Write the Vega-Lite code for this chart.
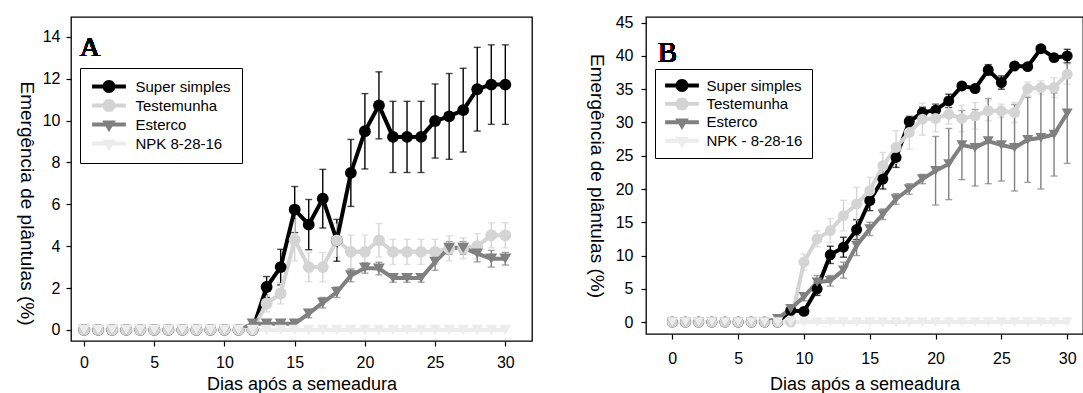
{
  "$schema": "https://vega.github.io/schema/vega-lite/v6.json",
  "padding": {"left": 15, "top": 14, "right": 0, "bottom": 0},
  "background": "white",
  "config": {
    "font": "Liberation Sans",
    "view": {"stroke": "black", "strokeWidth": 1.3},
    "axis": {"domain": false, "grid": false, "tickColor": "black", "tickSize": 5, "tickWidth": 1.2, "labelColor": "black", "labelFontSize": 16, "titleFontSize": 18, "titleFontWeight": "normal", "titleColor": "black", "labelFont": "Liberation Sans", "titleFont": "Liberation Sans"},
    "axisY": {"titleAngle": 90, "titleBaseline": "top", "titleFontSize": 19},
    "legend": {"title": null, "orient": "none", "labelFontSize": 15, "labelColor": "black", "labelFont": "Liberation Sans", "padding": 11, "rowPadding": 3, "symbolSize": 169, "symbolOffset": 10.5, "labelOffset": 19, "strokeColor": "black", "symbolStrokeWidth": 0, "symbolOpacity": 1}
  },
  "spacing": 52,
  "resolve": {"scale": {"color": "independent", "shape": "independent", "x": "independent", "y": "independent"}},
  "datasets": {
    "A": [
      {"d":0,"s":"Super simples","m":0,"e":0},{"d":1,"s":"Super simples","m":0,"e":0},{"d":2,"s":"Super simples","m":0,"e":0},{"d":3,"s":"Super simples","m":0,"e":0},{"d":4,"s":"Super simples","m":0,"e":0},{"d":5,"s":"Super simples","m":0,"e":0},{"d":6,"s":"Super simples","m":0,"e":0},{"d":7,"s":"Super simples","m":0,"e":0},{"d":8,"s":"Super simples","m":0,"e":0},{"d":9,"s":"Super simples","m":0,"e":0},{"d":10,"s":"Super simples","m":0,"e":0},{"d":11,"s":"Super simples","m":0,"e":0},{"d":12,"s":"Super simples","m":0,"e":0},
      {"d":13,"s":"Super simples","m":2.05,"e":0.5},{"d":14,"s":"Super simples","m":3.0,"e":0.85},{"d":15,"s":"Super simples","m":5.75,"e":1.1},{"d":16,"s":"Super simples","m":5.03,"e":1.2},{"d":17,"s":"Super simples","m":6.27,"e":1.4},{"d":18,"s":"Super simples","m":4.28,"e":1.0},{"d":19,"s":"Super simples","m":7.5,"e":1.6},{"d":20,"s":"Super simples","m":9.49,"e":1.8},{"d":21,"s":"Super simples","m":10.73,"e":1.6},{"d":22,"s":"Super simples","m":9.22,"e":1.7},{"d":23,"s":"Super simples","m":9.22,"e":1.7},{"d":24,"s":"Super simples","m":9.22,"e":1.7},{"d":25,"s":"Super simples","m":9.98,"e":1.77},{"d":26,"s":"Super simples","m":10.2,"e":2.05},{"d":27,"s":"Super simples","m":10.5,"e":2.0},{"d":28,"s":"Super simples","m":11.5,"e":2.0},{"d":29,"s":"Super simples","m":11.72,"e":1.9},{"d":30,"s":"Super simples","m":11.72,"e":1.9},
      {"d":0,"s":"Testemunha","m":0,"e":0},{"d":1,"s":"Testemunha","m":0,"e":0},{"d":2,"s":"Testemunha","m":0,"e":0},{"d":3,"s":"Testemunha","m":0,"e":0},{"d":4,"s":"Testemunha","m":0,"e":0},{"d":5,"s":"Testemunha","m":0,"e":0},{"d":6,"s":"Testemunha","m":0,"e":0},{"d":7,"s":"Testemunha","m":0,"e":0},{"d":8,"s":"Testemunha","m":0,"e":0},{"d":9,"s":"Testemunha","m":0,"e":0},{"d":10,"s":"Testemunha","m":0,"e":0},{"d":11,"s":"Testemunha","m":0,"e":0},{"d":12,"s":"Testemunha","m":0,"e":0},
      {"d":13,"s":"Testemunha","m":1.26,"e":0.4},{"d":14,"s":"Testemunha","m":1.74,"e":0.5},{"d":15,"s":"Testemunha","m":4.3,"e":1.0},{"d":16,"s":"Testemunha","m":3.0,"e":0.7},{"d":17,"s":"Testemunha","m":3.0,"e":0.7},{"d":18,"s":"Testemunha","m":4.28,"e":0.8},{"d":19,"s":"Testemunha","m":3.73,"e":0.8},{"d":20,"s":"Testemunha","m":3.73,"e":0.8},{"d":21,"s":"Testemunha","m":4.28,"e":0.8},{"d":22,"s":"Testemunha","m":3.73,"e":0.6},{"d":23,"s":"Testemunha","m":3.73,"e":0.6},{"d":24,"s":"Testemunha","m":3.73,"e":0.6},{"d":25,"s":"Testemunha","m":3.73,"e":0.6},{"d":26,"s":"Testemunha","m":3.9,"e":0.6},{"d":27,"s":"Testemunha","m":3.9,"e":0.5},{"d":28,"s":"Testemunha","m":4.0,"e":0.6},{"d":29,"s":"Testemunha","m":4.52,"e":0.6},{"d":30,"s":"Testemunha","m":4.52,"e":0.6},
      {"d":0,"s":"Esterco","m":0,"e":0},{"d":1,"s":"Esterco","m":0,"e":0},{"d":2,"s":"Esterco","m":0,"e":0},{"d":3,"s":"Esterco","m":0,"e":0},{"d":4,"s":"Esterco","m":0,"e":0},{"d":5,"s":"Esterco","m":0,"e":0},{"d":6,"s":"Esterco","m":0,"e":0},{"d":7,"s":"Esterco","m":0,"e":0},{"d":8,"s":"Esterco","m":0,"e":0},{"d":9,"s":"Esterco","m":0,"e":0},{"d":10,"s":"Esterco","m":0,"e":0},{"d":11,"s":"Esterco","m":0,"e":0},{"d":12,"s":"Esterco","m":0.3,"e":0},
      {"d":13,"s":"Esterco","m":0.3,"e":0.1},{"d":14,"s":"Esterco","m":0.3,"e":0.1},{"d":15,"s":"Esterco","m":0.3,"e":0.1},{"d":16,"s":"Esterco","m":0.78,"e":0.2},{"d":17,"s":"Esterco","m":1.3,"e":0.25},{"d":18,"s":"Esterco","m":1.8,"e":0.25},{"d":19,"s":"Esterco","m":2.6,"e":0.3},{"d":20,"s":"Esterco","m":2.96,"e":0.25},{"d":21,"s":"Esterco","m":2.93,"e":0.3},{"d":22,"s":"Esterco","m":2.48,"e":0.2},{"d":23,"s":"Esterco","m":2.48,"e":0.2},{"d":24,"s":"Esterco","m":2.48,"e":0.2},{"d":25,"s":"Esterco","m":3.25,"e":0.4},{"d":26,"s":"Esterco","m":3.92,"e":0.3},{"d":27,"s":"Esterco","m":3.92,"e":0.3},{"d":28,"s":"Esterco","m":3.65,"e":0.4},{"d":29,"s":"Esterco","m":3.4,"e":0.4},{"d":30,"s":"Esterco","m":3.4,"e":0.3},
      {"d":0,"s":"NPK 8-28-16","m":0,"e":0},{"d":1,"s":"NPK 8-28-16","m":0,"e":0},{"d":2,"s":"NPK 8-28-16","m":0,"e":0},{"d":3,"s":"NPK 8-28-16","m":0,"e":0},{"d":4,"s":"NPK 8-28-16","m":0,"e":0},{"d":5,"s":"NPK 8-28-16","m":0,"e":0},{"d":6,"s":"NPK 8-28-16","m":0,"e":0},{"d":7,"s":"NPK 8-28-16","m":0,"e":0},{"d":8,"s":"NPK 8-28-16","m":0,"e":0},{"d":9,"s":"NPK 8-28-16","m":0,"e":0},{"d":10,"s":"NPK 8-28-16","m":0,"e":0},{"d":11,"s":"NPK 8-28-16","m":0,"e":0},{"d":12,"s":"NPK 8-28-16","m":0,"e":0},{"d":13,"s":"NPK 8-28-16","m":0,"e":0},{"d":14,"s":"NPK 8-28-16","m":0,"e":0},{"d":15,"s":"NPK 8-28-16","m":0,"e":0},{"d":16,"s":"NPK 8-28-16","m":0,"e":0},{"d":17,"s":"NPK 8-28-16","m":0,"e":0},{"d":18,"s":"NPK 8-28-16","m":0,"e":0},{"d":19,"s":"NPK 8-28-16","m":0,"e":0},{"d":20,"s":"NPK 8-28-16","m":0,"e":0},{"d":21,"s":"NPK 8-28-16","m":0,"e":0},{"d":22,"s":"NPK 8-28-16","m":0,"e":0},{"d":23,"s":"NPK 8-28-16","m":0,"e":0},{"d":24,"s":"NPK 8-28-16","m":0,"e":0},{"d":25,"s":"NPK 8-28-16","m":0,"e":0},{"d":26,"s":"NPK 8-28-16","m":0,"e":0},{"d":27,"s":"NPK 8-28-16","m":0,"e":0},{"d":28,"s":"NPK 8-28-16","m":0,"e":0},{"d":29,"s":"NPK 8-28-16","m":0,"e":0},{"d":30,"s":"NPK 8-28-16","m":0,"e":0}
    ],
    "B": [
      {"d":0,"s":"Super simples","m":0,"e":0},{"d":1,"s":"Super simples","m":0,"e":0},{"d":2,"s":"Super simples","m":0,"e":0},{"d":3,"s":"Super simples","m":0,"e":0},{"d":4,"s":"Super simples","m":0,"e":0},{"d":5,"s":"Super simples","m":0,"e":0},{"d":6,"s":"Super simples","m":0,"e":0},{"d":7,"s":"Super simples","m":0,"e":0},{"d":8,"s":"Super simples","m":0,"e":0},
      {"d":9,"s":"Super simples","m":1.75,"e":0.3},{"d":10,"s":"Super simples","m":1.6,"e":0.4},{"d":11,"s":"Super simples","m":5.0,"e":1.0},{"d":12,"s":"Super simples","m":10.1,"e":1.3},{"d":13,"s":"Super simples","m":11.25,"e":1.5},{"d":14,"s":"Super simples","m":13.9,"e":1.5},{"d":15,"s":"Super simples","m":18.25,"e":1.5},{"d":16,"s":"Super simples","m":21.5,"e":1.5},{"d":17,"s":"Super simples","m":24.75,"e":1.5},{"d":18,"s":"Super simples","m":30.15,"e":0.8},{"d":19,"s":"Super simples","m":31.5,"e":0.8},{"d":20,"s":"Super simples","m":31.85,"e":0.9},{"d":21,"s":"Super simples","m":33.25,"e":1.0},{"d":22,"s":"Super simples","m":35.5,"e":0.4},{"d":23,"s":"Super simples","m":35.1,"e":0.4},{"d":24,"s":"Super simples","m":37.9,"e":0.8},{"d":25,"s":"Super simples","m":36.0,"e":1.0},{"d":26,"s":"Super simples","m":38.5,"e":0.4},{"d":27,"s":"Super simples","m":38.4,"e":0.4},{"d":28,"s":"Super simples","m":41.1,"e":0.4},{"d":29,"s":"Super simples","m":39.75,"e":0.4},{"d":30,"s":"Super simples","m":40.0,"e":1.0},
      {"d":0,"s":"Testemunha","m":0,"e":0},{"d":1,"s":"Testemunha","m":0,"e":0},{"d":2,"s":"Testemunha","m":0,"e":0},{"d":3,"s":"Testemunha","m":0,"e":0},{"d":4,"s":"Testemunha","m":0,"e":0},{"d":5,"s":"Testemunha","m":0,"e":0},{"d":6,"s":"Testemunha","m":0,"e":0},{"d":7,"s":"Testemunha","m":0,"e":0},{"d":8,"s":"Testemunha","m":0,"e":0},{"d":9,"s":"Testemunha","m":0,"e":0},
      {"d":10,"s":"Testemunha","m":9.0,"e":1.2},{"d":11,"s":"Testemunha","m":12.5,"e":1.2},{"d":12,"s":"Testemunha","m":13.75,"e":1.8},{"d":13,"s":"Testemunha","m":16.0,"e":2.3},{"d":14,"s":"Testemunha","m":17.75,"e":2.5},{"d":15,"s":"Testemunha","m":19.75,"e":2.0},{"d":16,"s":"Testemunha","m":23.5,"e":2.0},{"d":17,"s":"Testemunha","m":26.25,"e":2.5},{"d":18,"s":"Testemunha","m":28.5,"e":2.5},{"d":19,"s":"Testemunha","m":30.5,"e":2.4},{"d":20,"s":"Testemunha","m":30.6,"e":2.0},{"d":21,"s":"Testemunha","m":31.25,"e":1.5},{"d":22,"s":"Testemunha","m":30.6,"e":2.0},{"d":23,"s":"Testemunha","m":31.0,"e":2.0},{"d":24,"s":"Testemunha","m":31.75,"e":1.5},{"d":25,"s":"Testemunha","m":31.75,"e":1.0},{"d":26,"s":"Testemunha","m":31.5,"e":1.5},{"d":27,"s":"Testemunha","m":35.1,"e":1.0},{"d":28,"s":"Testemunha","m":35.25,"e":1.0},{"d":29,"s":"Testemunha","m":35.25,"e":1.5},{"d":30,"s":"Testemunha","m":37.25,"e":1.5},
      {"d":0,"s":"Esterco","m":0,"e":0},{"d":1,"s":"Esterco","m":0,"e":0},{"d":2,"s":"Esterco","m":0,"e":0},{"d":3,"s":"Esterco","m":0,"e":0},{"d":4,"s":"Esterco","m":0,"e":0},{"d":5,"s":"Esterco","m":0,"e":0},{"d":6,"s":"Esterco","m":0,"e":0},{"d":7,"s":"Esterco","m":0,"e":0},{"d":8,"s":"Esterco","m":0.5,"e":0},
      {"d":9,"s":"Esterco","m":2.0,"e":0.3},{"d":10,"s":"Esterco","m":3.8,"e":0.6},{"d":11,"s":"Esterco","m":6.0,"e":1.0},{"d":12,"s":"Esterco","m":6.2,"e":0.8},{"d":13,"s":"Esterco","m":7.8,"e":1.2},{"d":14,"s":"Esterco","m":11.5,"e":1.5},{"d":15,"s":"Esterco","m":14.0,"e":1.0},{"d":16,"s":"Esterco","m":16.2,"e":0.8},{"d":17,"s":"Esterco","m":18.5,"e":0.8},{"d":18,"s":"Esterco","m":20.0,"e":0.8},{"d":19,"s":"Esterco","m":21.5,"e":0.7},{"d":20,"s":"Esterco","m":22.75,"e":5.15},{"d":21,"s":"Esterco","m":23.75,"e":5.35},{"d":22,"s":"Esterco","m":26.6,"e":5.2},{"d":23,"s":"Esterco","m":26.2,"e":5.75},{"d":24,"s":"Esterco","m":27.2,"e":6.4},{"d":25,"s":"Esterco","m":26.6,"e":5.4},{"d":26,"s":"Esterco","m":26.2,"e":6.5},{"d":27,"s":"Esterco","m":27.4,"e":6.4},{"d":28,"s":"Esterco","m":27.7,"e":7.7},{"d":29,"s":"Esterco","m":28.2,"e":6.25},{"d":30,"s":"Esterco","m":31.4,"e":7.55},
      {"d":0,"s":"NPK - 8-28-16","m":0,"e":0},{"d":1,"s":"NPK - 8-28-16","m":0,"e":0},{"d":2,"s":"NPK - 8-28-16","m":0,"e":0},{"d":3,"s":"NPK - 8-28-16","m":0,"e":0},{"d":4,"s":"NPK - 8-28-16","m":0,"e":0},{"d":5,"s":"NPK - 8-28-16","m":0,"e":0},{"d":6,"s":"NPK - 8-28-16","m":0,"e":0},{"d":7,"s":"NPK - 8-28-16","m":0,"e":0},{"d":8,"s":"NPK - 8-28-16","m":0,"e":0},{"d":9,"s":"NPK - 8-28-16","m":0,"e":0},{"d":10,"s":"NPK - 8-28-16","m":0,"e":0},{"d":11,"s":"NPK - 8-28-16","m":0,"e":0},{"d":12,"s":"NPK - 8-28-16","m":0,"e":0},{"d":13,"s":"NPK - 8-28-16","m":0,"e":0},{"d":14,"s":"NPK - 8-28-16","m":0,"e":0},{"d":15,"s":"NPK - 8-28-16","m":0,"e":0},{"d":16,"s":"NPK - 8-28-16","m":0,"e":0},{"d":17,"s":"NPK - 8-28-16","m":0,"e":0},{"d":18,"s":"NPK - 8-28-16","m":0,"e":0},{"d":19,"s":"NPK - 8-28-16","m":0,"e":0},{"d":20,"s":"NPK - 8-28-16","m":0,"e":0},{"d":21,"s":"NPK - 8-28-16","m":0,"e":0},{"d":22,"s":"NPK - 8-28-16","m":0,"e":0},{"d":23,"s":"NPK - 8-28-16","m":0,"e":0},{"d":24,"s":"NPK - 8-28-16","m":0,"e":0},{"d":25,"s":"NPK - 8-28-16","m":0,"e":0},{"d":26,"s":"NPK - 8-28-16","m":0,"e":0},{"d":27,"s":"NPK - 8-28-16","m":0,"e":0},{"d":28,"s":"NPK - 8-28-16","m":0,"e":0},{"d":29,"s":"NPK - 8-28-16","m":0,"e":0},{"d":30,"s":"NPK - 8-28-16","m":0,"e":0}
    ]
  },
  "hconcat": [
    {
      "width": 461,
      "height": 324,
      "data": {"name": "A"},
      "encoding": {
        "x": {"field": "d", "type": "quantitative", "scale": {"domain": [-0.93, 31.9], "nice": false, "zero": false}, "axis": {"values": [0, 5, 10, 15, 20, 25, 30], "title": "Dias após a semeadura", "labelPadding": 8, "titlePadding": 5}},
        "y": {"field": "m", "type": "quantitative", "scale": {"domain": [-0.53, 14.95], "nice": false, "zero": false}, "axis": {"values": [0, 2, 4, 6, 8, 10, 12, 14], "title": "Emergência de plântulas (%)", "labelPadding": 6, "titlePadding": 7, "titleY": 186}},
        "color": {"field": "s", "type": "nominal", "scale": {"domain": ["Super simples", "Testemunha", "Esterco", "NPK 8-28-16"], "range": ["#000000", "#d4d4d4", "#808080", "#ececec"]}, "legend": {"legendX": 9, "legendY": 51}}
      },
      "layer": [
        {
          "transform": [{"filter": "datum.e > 0"}],
          "mark": {"type": "errorbar", "ticks": true, "size": 7, "thickness": 1.4},
          "encoding": {"yError": {"field": "e"}}
        },
        {
          "mark": {"type": "line", "strokeWidth": 4}
        },
        {
          "transform": [{"filter": "datum.s == 'Super simples' || datum.s == 'Testemunha'"}],
          "mark": {"type": "point", "shape": "circle", "filled": true, "opacity": 1, "size": 140, "strokeWidth": 0}
        },
        {
          "transform": [{"filter": "datum.s == 'Esterco' || datum.s == 'NPK 8-28-16'"}],
          "mark": {"type": "point", "shape": "triangle-down", "filled": true, "opacity": 1, "size": 140, "strokeWidth": 0}
        },
        {
          "transform": [{"filter": "datum.d < 0"}],
          "mark": {"type": "point", "filled": true, "opacity": 1, "strokeWidth": 0},
          "encoding": {
            "shape": {"field": "s", "type": "nominal", "scale": {"domain": ["Super simples", "Testemunha", "Esterco", "NPK 8-28-16"], "range": ["M-2.6,-0.3L2.6,-0.3L2.6,0.3L-2.6,0.3Z M-1,0A1,1 0 0,1 1,0A1,1 0 0,1 -1,0Z", "M-2.6,-0.3L2.6,-0.3L2.6,0.3L-2.6,0.3Z M-1,0A1,1 0 0,1 1,0A1,1 0 0,1 -1,0Z", "M-2.6,-0.3L2.6,-0.3L2.6,0.3L-2.6,0.3Z M-1.05,-0.6L1.05,-0.6L0,1.2Z", "M-2.6,-0.3L2.6,-0.3L2.6,0.3L-2.6,0.3Z M-1.05,-0.6L1.05,-0.6L0,1.2Z"]}, "legend": {"legendX": 9, "legendY": 51}}
          }
        },
        {
          "mark": {"type": "text", "font": "Liberation Serif, Times New Roman, serif", "fontSize": 28, "fontWeight": "normal", "align": "left", "baseline": "alphabetic"},
          "encoding": {"x": {"datum": -0.3}, "y": {"datum": 13.1}, "text": {"value": "A"}, "color": {"value": "black"}}
        }
      ]
    },
    {
      "width": 437,
      "height": 317,
      "data": {"name": "B"},
      "encoding": {
        "x": {"field": "d", "type": "quantitative", "scale": {"domain": [-2.0, 31.2], "nice": false, "zero": false}, "axis": {"values": [0, 5, 10, 15, 20, 25, 30], "title": "Dias após a semeadura", "labelPadding": 11, "titlePadding": 9}},
        "y": {"field": "m", "type": "quantitative", "scale": {"domain": [-1.8, 45.86], "nice": false, "zero": false}, "axis": {"values": [0, 5, 10, 15, 20, 25, 30, 35, 40, 45], "title": "Emergência de plântulas (%)", "labelPadding": 8, "titlePadding": 10}},
        "color": {"field": "s", "type": "nominal", "scale": {"domain": ["Super simples", "Testemunha", "Esterco", "NPK - 8-28-16"], "range": ["#000000", "#d4d4d4", "#808080", "#ececec"]}, "legend": {"legendX": 9, "legendY": 52, "padding": 9, "rowPadding": 2.4, "labelOffset": 17}}
      },
      "layer": [
        {
          "transform": [{"filter": "datum.e > 0"}],
          "mark": {"type": "errorbar", "ticks": true, "size": 7, "thickness": 1.4},
          "encoding": {"yError": {"field": "e"}}
        },
        {
          "mark": {"type": "line", "strokeWidth": 4}
        },
        {
          "transform": [{"filter": "datum.s == 'Super simples' || datum.s == 'Testemunha'"}],
          "mark": {"type": "point", "shape": "circle", "filled": true, "opacity": 1, "size": 120, "strokeWidth": 0}
        },
        {
          "transform": [{"filter": "datum.s == 'Esterco' || datum.s == 'NPK - 8-28-16'"}],
          "mark": {"type": "point", "shape": "triangle-down", "filled": true, "opacity": 1, "size": 120, "strokeWidth": 0}
        },
        {
          "transform": [{"filter": "datum.d < 0"}],
          "mark": {"type": "point", "filled": true, "opacity": 1, "strokeWidth": 0},
          "encoding": {
            "shape": {"field": "s", "type": "nominal", "scale": {"domain": ["Super simples", "Testemunha", "Esterco", "NPK - 8-28-16"], "range": ["M-2.6,-0.3L2.6,-0.3L2.6,0.3L-2.6,0.3Z M-1,0A1,1 0 0,1 1,0A1,1 0 0,1 -1,0Z", "M-2.6,-0.3L2.6,-0.3L2.6,0.3L-2.6,0.3Z M-1,0A1,1 0 0,1 1,0A1,1 0 0,1 -1,0Z", "M-2.6,-0.3L2.6,-0.3L2.6,0.3L-2.6,0.3Z M-1.05,-0.6L1.05,-0.6L0,1.2Z", "M-2.6,-0.3L2.6,-0.3L2.6,0.3L-2.6,0.3Z M-1.05,-0.6L1.05,-0.6L0,1.2Z"]}, "legend": {"legendX": 9, "legendY": 52, "padding": 9, "rowPadding": 2.4, "labelOffset": 17}}
          }
        },
        {
          "mark": {"type": "text", "font": "Liberation Serif, Times New Roman, serif", "fontSize": 29, "fontWeight": "normal", "align": "left", "baseline": "alphabetic"},
          "encoding": {"x": {"datum": -1.1}, "y": {"datum": 39.1}, "text": {"value": "B"}, "color": {"value": "black"}}
        }
      ]
    }
  ]
}
